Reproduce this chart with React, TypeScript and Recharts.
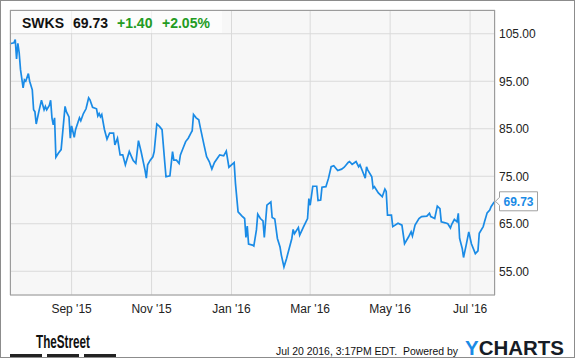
import React from "react";
import { LineChart, Line, XAxis, YAxis, CartesianGrid, LabelList } from "recharts";

// SWKS daily closes, one row per month
const dates = [
  "2015-07-16", "2015-07-19", "2015-07-20", "2015-07-21", "2015-07-22", "2015-07-23", "2015-07-24", "2015-07-26", "2015-07-27", "2015-07-28", "2015-07-30", "2015-07-31",
  "2015-08-02", "2015-08-03", "2015-08-04", "2015-08-05", "2015-08-07", "2015-08-09", "2015-08-11", "2015-08-12", "2015-08-13", "2015-08-15", "2015-08-16", "2015-08-17", "2015-08-18", "2015-08-19", "2015-08-20", "2015-08-22", "2015-08-24", "2015-08-27", "2015-08-28", "2015-08-30", "2015-08-31",
  "2015-09-01", "2015-09-03", "2015-09-04", "2015-09-07", "2015-09-08", "2015-09-10", "2015-09-12", "2015-09-14", "2015-09-15", "2015-09-17", "2015-09-20", "2015-09-21", "2015-09-22", "2015-09-23", "2015-09-24", "2015-09-26", "2015-09-28", "2015-09-30",
  "2015-10-03", "2015-10-04", "2015-10-06", "2015-10-08", "2015-10-10", "2015-10-12", "2015-10-15", "2015-10-18", "2015-10-20", "2015-10-22", "2015-10-24", "2015-10-27", "2015-10-28", "2015-10-29", "2015-10-31",
  "2015-11-02", "2015-11-03", "2015-11-05", "2015-11-07", "2015-11-09", "2015-11-11", "2015-11-12", "2015-11-15", "2015-11-17", "2015-11-18", "2015-11-20", "2015-11-22", "2015-11-23", "2015-11-25", "2015-11-27", "2015-11-29",
  "2015-12-01", "2015-12-02", "2015-12-03", "2015-12-05", "2015-12-07", "2015-12-08", "2015-12-11", "2015-12-13", "2015-12-15", "2015-12-17", "2015-12-19", "2015-12-22", "2015-12-23", "2015-12-26", "2015-12-28", "2015-12-30",
  "2016-01-01", "2016-01-03", "2016-01-04", "2016-01-06", "2016-01-09", "2016-01-11", "2016-01-12", "2016-01-13", "2016-01-14", "2016-01-17", "2016-01-18", "2016-01-20", "2016-01-21", "2016-01-23", "2016-01-25", "2016-01-26", "2016-01-28", "2016-01-31",
  "2016-02-01", "2016-02-03", "2016-02-05", "2016-02-07", "2016-02-08", "2016-02-10", "2016-02-12", "2016-02-14", "2016-02-16", "2016-02-17", "2016-02-18", "2016-02-21", "2016-02-22", "2016-02-25", "2016-02-28", "2016-02-29",
  "2016-03-01", "2016-03-03", "2016-03-06", "2016-03-07", "2016-03-09", "2016-03-10", "2016-03-13", "2016-03-15", "2016-03-17", "2016-03-19", "2016-03-22", "2016-03-25", "2016-03-27", "2016-03-30", "2016-03-31",
  "2016-04-02", "2016-04-04", "2016-04-05", "2016-04-07", "2016-04-08", "2016-04-10", "2016-04-12", "2016-04-13", "2016-04-14", "2016-04-17", "2016-04-18", "2016-04-19", "2016-04-22", "2016-04-25", "2016-04-27", "2016-04-28", "2016-04-29",
  "2016-05-02", "2016-05-03", "2016-05-07", "2016-05-10", "2016-05-12", "2016-05-15", "2016-05-17", "2016-05-18", "2016-05-20", "2016-05-23", "2016-05-25", "2016-05-29", "2016-05-31",
  "2016-06-01", "2016-06-04", "2016-06-06", "2016-06-08", "2016-06-09", "2016-06-12", "2016-06-14", "2016-06-16", "2016-06-17", "2016-06-19", "2016-06-21", "2016-06-22", "2016-06-23", "2016-06-25", "2016-06-26", "2016-06-28", "2016-06-30",
  "2016-07-02", "2016-07-05", "2016-07-07", "2016-07-08", "2016-07-11", "2016-07-12", "2016-07-14", "2016-07-16", "2016-07-17", "2016-07-19", "2016-07-20",
];

const prices = [
  102.9, 103.1, 103.8, 99.7, 103.0, 101.0, 97.5, 93.6, 95.3, 95.0, 96.6, 95.0,
  93.2, 89.0, 88.6, 86.0, 88.6, 91.0, 89.0, 89.7, 89.0, 89.9, 91.0, 87.3, 85.8, 87.3, 79.0, 79.9, 80.6, 89.7, 88.6, 87.5, 83.0,
  85.6, 83.2, 84.8, 87.3, 86.7, 88.2, 89.2, 91.5, 91.1, 89.5, 89.2, 87.7, 88.2, 87.5, 88.0, 84.9, 82.8, 84.1,
  84.1, 81.6, 83.0, 79.5, 79.5, 77.4, 80.2, 78.3, 77.7, 82.5, 80.2, 76.3, 74.6, 77.4, 78.4,
  79.1, 80.2, 86.0, 85.5, 84.8, 78.1, 74.9, 75.1, 80.2, 78.4, 78.4, 77.7, 79.5, 80.9, 82.3, 83.0,
  84.1, 84.6, 88.0, 87.3, 86.9, 85.5, 81.6, 79.1, 78.1, 76.5, 77.9, 79.1, 79.5, 79.3, 80.3, 76.9,
  77.4, 77.9, 73.5, 67.5, 66.6, 66.1, 62.1, 64.5, 60.7, 60.5, 60.3, 63.7, 67.0, 66.1, 65.6, 62.1, 68.9, 69.6,
  66.3, 66.0, 61.9, 60.1, 58.4, 55.9, 57.7, 59.8, 61.9, 63.8, 62.9, 64.2, 62.6, 64.4, 66.1, 70.3,
  68.9, 72.9, 72.9, 69.9, 70.0, 72.7, 72.8, 74.6, 77.0, 77.2, 76.2, 76.5, 76.9, 77.9, 78.1,
  77.5, 77.9, 78.1, 77.0, 77.4, 76.0, 74.6, 77.0, 76.3, 74.9, 72.5, 72.8, 71.5, 70.7, 72.3, 71.8, 66.8,
  66.8, 64.4, 65.1, 64.7, 60.8, 62.2, 63.3, 62.4, 64.7, 66.1, 66.5, 66.6, 67.2,
  66.5, 66.1, 68.7, 68.2, 65.4, 65.2, 65.0, 64.1, 64.9, 65.9, 65.4, 67.2, 61.9, 59.8, 57.9, 60.5, 63.3,
  60.8, 58.7, 59.3, 63.0, 64.4, 65.4, 67.3, 67.9, 68.6, 69.4, 69.73,
];

const tickDates = ["2015-09-01", "2015-11-01", "2016-01-01", "2016-03-01", "2016-05-01", "2016-07-01"];
const tickLabels = ["Sep '15", "Nov '15", "Jan '16", "Mar '16", "May '16", "Jul '16"];
const priceTicks = [55, 65, 75, 85, 95, 105];

const symbol = "SWKS";
const lastPrice = "69.73";
const change = "+1.40";
const changePct = "+2.05%";
const timestamp = "Jul 20 2016, 3:17PM EDT.  Powered by";

const startDate = "2015-07-16";
const endDate = "2016-07-20";

const lineColor = "#1a8be6";
const green = "#239b23";
const font = "'Liberation Sans', Arial, sans-serif";

const data = dates.map((d, i) => ({ t: Date.parse(d), price: prices[i] }));
const xTicks = tickDates.map((d) => Date.parse(d));

const formatTick = (t: number) => tickLabels[xTicks.indexOf(t)] ?? "";

const LastPriceTag = (props: any) => {
  const { x, y, index, value } = props;
  if (index !== data.length - 1) return null;
  const left = x + 4.5;
  const w = 38;
  const h = 19;
  const top = y - h / 2;
  return (
    <g>
      <path
        d={`M${left},${top} H${left + w} V${top + h} H${left} V${y + 4} L${x + 0.5},${y} L${left},${y - 4} Z`}
        fill="#fff"
        stroke="#a0a0a0"
      />
      <text x={left + w / 2} y={y + 4.5} textAnchor="middle" fontFamily={font} fontWeight="bold" fontSize={12} fill={lineColor}>
        {Number(value).toFixed(2)}
      </text>
    </g>
  );
};

export default function App() {
  return (
    <div style={{ position: "absolute", left: 0, top: 0, width: 575, height: 358, background: "#fff" }}>
      <LineChart
        width={575}
        height={358}
        data={data}
        margin={{ top: 10, right: 20, left: 10, bottom: 33 }}
      >
        <CartesianGrid fill="#f7f7f7" stroke="#dadada" />
        <XAxis
          dataKey="t"
          type="number"
          domain={[Date.parse(startDate), Date.parse(endDate)]}
          ticks={xTicks}
          tickFormatter={formatTick}
          interval={0}
          height={30}
          axisLine={false}
          tickLine={false}
          tickSize={0}
          tickMargin={9}
          tick={{ fill: "#222", fontSize: 12, fontFamily: font }}
        />
        <YAxis
          orientation="right"
          domain={[50, 110]}
          ticks={priceTicks}
          interval={0}
          width={60}
          axisLine={false}
          tickLine={false}
          tickSize={0}
          tickMargin={4}
          tickFormatter={(v: number) => v.toFixed(2)}
          tick={{ fill: "#222", fontSize: 12, fontFamily: font, textAnchor: "start" }}
        />
        <Line
          type="linear"
          dataKey="price"
          stroke={lineColor}
          strokeWidth={1.7}
          dot={false}
          isAnimationActive={false}
        >
          <LabelList dataKey="price" content={LastPriceTag} />
        </Line>
      </LineChart>

      <svg width={575} height={358} style={{ position: "absolute", left: 0, top: 0, pointerEvents: "none" }}>
        {/* plot frame and header band */}
        <rect x={10.5} y={10.5} width={484} height={284.5} fill="none" stroke="#9c9c9c" />
        <rect x={11} y={11} width={211} height={22} fill="#fff" fillOpacity={0.6} />
        <g fontFamily={font} fontWeight="bold" fontSize={14}>
          <text x={22} y={28} fill="#111">{symbol}</text>
          <text x={73} y={28} fill="#111">{lastPrice}</text>
          <text x={117} y={28} fill={green}>{change}</text>
          <text x={162} y={28} fill={green}>{changePct}</text>
        </g>

        {/* footer */}
        <text x={36} y={348} fontFamily={font} fontWeight="bold" fontSize={19} fill="#111" textLength={54} lengthAdjust="spacingAndGlyphs">
          TheStreet
        </text>
        <rect x={10} y={354} width={32} height={3.5} fill="#222" />
        <rect x={47} y={354} width={32} height={3.5} fill="#222" />
        <rect x={84} y={354} width={32} height={3.5} fill="#222" />
        <text x={276} y={354.5} fontFamily={font} fontSize={10.4} fill="#111" textLength={182} lengthAdjust="spacingAndGlyphs" xmlSpace="preserve">
          {timestamp}
        </text>
        <text x={465} y={355} fontFamily={font} fontWeight="bold" fontSize={20} textLength={99} lengthAdjust="spacingAndGlyphs">
          <tspan fill={lineColor}>Y</tspan>
          <tspan fill="#161c26">CHARTS</tspan>
        </text>

        {/* outer frame */}
        <rect x={0.5} y={0.5} width={574} height={357} fill="none" stroke="#8c8c8c" />
      </svg>
    </div>
  );
}
